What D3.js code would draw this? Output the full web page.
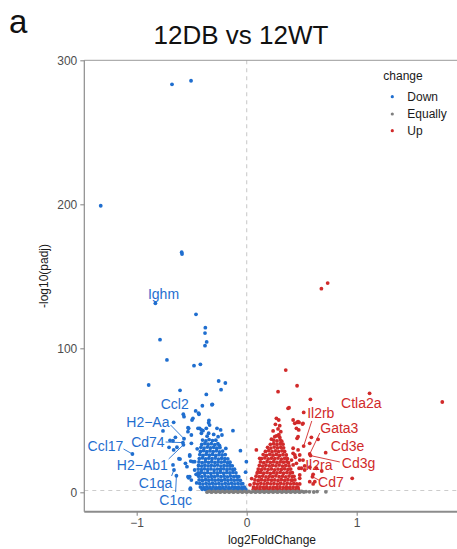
<!DOCTYPE html>
<html><head><meta charset="utf-8">
<script src="https://cdn.jsdelivr.net/npm/d3@7/dist/d3.min.js"></script>
<style>body{margin:0;background:#fff}svg{display:block}text{font-family:"Liberation Sans",Arial,sans-serif}</style>
</head><body><svg id="c" width="457" height="549"></svg>
<script>
const title = "12DB vs 12WT";
const panelTag = "a";
const xTicks = [-1, 0, 1];
const yTicks = [0, 100, 200, 300];
const legendLabels = ["Down", "Equally", "Up"];
const xTitle = "log2FoldChange";
const yTitle = "-log10(padj)";

// [log2FoldChange, -log10(padj)]
const downScattered = [
[-0.679,283.3],[-0.506,285.8],[-1.327,199],[-0.591,166.7],[-0.588,165.4],[-0.83,131.2],[-0.461,123.6],[-0.376,114.3],[-0.379,110.6],[-0.364,104.4],[-0.379,101.8],[-0.788,106],[-0.725,91.9],[-0.479,87.9],[-0.421,88.9],[-0.891,74.5],[-0.606,70.8],[-0.255,77.3],[-0.194,75.9],[-0.233,71.3],[-0.367,68],[-0.403,60.1],[-0.312,61.1],[-0.316,60.8],[-0.464,56.5],[-0.576,54.2],[-0.57,52.5],[-0.434,54.2],[-0.437,54.9],[-0.489,51.4],[-0.497,50.2],[-0.343,50],[-0.346,48.3],[-0.664,48.6],[-0.533,44.9],[-0.528,44.4],[-0.428,44.4],[-0.397,42.8],[-0.412,41],[-0.503,39.8],[-0.125,42.8],[-0.761,42.6],[-0.697,36.1],[-0.648,38.2],[-0.67,35.8],[-0.57,37.2],[-0.58,34.5],[-0.575,33],[-0.706,31.2],[-0.634,31.3],[-0.664,29.4],[-1.039,26.6],[-0.616,23.3],[-0.606,23.1],[-0.518,25.2],[-0.473,21.3],[-0.543,17.8],[-0.557,20.1],[-0.509,21.7],[-0.67,19],[-0.661,15.5],[-0.639,11.5],[-0.527,10.1],[-0.518,10.8],[-0.503,8.5],[-0.428,13.2],[-0.512,2.8],[-0.512,2.1],[-0.057,28.9],[-0.443,44.4],[-0.412,43.3],[-0.367,44.4],[-0.337,46.7],[-0.27,44.4],[-0.237,43.3],[-0.225,39.8],[-0.346,41],[-0.534,42.1],[-0.503,34],[-0.518,25.9],[-0.489,21.3],[-0.534,10.8],[-0.473,15.5],[-0.003,21.3],[-0.01,14],[-0.3,40.2],[-0.36,39],[-0.26,38.6],[-0.19,30.5],[-0.45,30.2],[-0.46,12.5],[-0.455,6.5]
];
const downDense = [
[-0.401,36.3],[-0.371,35.7],[-0.342,36.6],[-0.311,35.9],[-0.281,36.2],
[-0.409,33.2],[-0.38,33.9],[-0.351,33.4],[-0.322,33.8],[-0.29,33.1],[-0.262,33.7],[-0.248,32.6],
[-0.416,31.2],[-0.387,30.7],[-0.358,31.4],[-0.329,30.8],[-0.3,31.3],[-0.271,30.6],[-0.243,31.1],
[-0.421,28.4],[-0.392,28.9],[-0.363,28.2],[-0.334,28.7],[-0.305,28.3],[-0.276,28.8],[-0.247,28.1],[-0.219,28.6],
[-0.426,26.2],[-0.397,25.7],[-0.368,26.4],[-0.339,25.8],[-0.31,26.3],[-0.281,25.6],[-0.252,26.1],[-0.223,25.9],[-0.195,26.2],
[-0.431,23.4],[-0.402,23.9],[-0.373,23.2],[-0.344,23.7],[-0.315,23.3],[-0.286,23.8],[-0.257,23.1],[-0.228,23.6],[-0.199,23.4],[-0.172,23.2],
[-0.434,21.1],[-0.405,20.6],[-0.376,21.3],[-0.347,20.8],[-0.318,21.2],[-0.289,20.7],[-0.26,21.1],[-0.231,20.9],[-0.202,21.3],[-0.174,20.6],[-0.152,20.9],
[-0.438,18.6],[-0.409,18.2],[-0.38,18.8],[-0.351,18.3],[-0.322,18.7],[-0.293,18.4],[-0.264,18.9],[-0.235,18.2],[-0.206,18.6],[-0.178,18.3],[-0.151,18.7],[-0.131,18.4],
[-0.441,16.1],[-0.412,15.7],[-0.383,16.3],[-0.354,15.8],[-0.325,16.2],[-0.296,15.6],[-0.267,16.1],[-0.238,15.9],[-0.209,16.3],[-0.18,15.7],[-0.152,16.2],[-0.126,15.8],[-0.111,16.0],
[-0.442,13.4],[-0.413,13.8],[-0.384,13.3],[-0.355,13.7],[-0.326,13.2],[-0.297,13.6],[-0.268,13.4],[-0.239,13.9],[-0.21,13.3],[-0.181,13.7],[-0.153,13.4],[-0.125,13.8],[-0.098,13.5],
[-0.437,11.2],[-0.408,10.8],[-0.379,11.3],[-0.35,10.7],[-0.321,11.1],[-0.292,10.9],[-0.263,11.4],[-0.234,10.8],[-0.205,11.2],[-0.176,10.7],[-0.147,11.3],[-0.118,10.9],[-0.091,11.1],[-0.072,10.8],
[-0.432,8.6],[-0.403,8.2],[-0.374,8.7],[-0.345,8.3],[-0.316,8.8],[-0.287,8.4],[-0.258,8.6],[-0.229,8.2],[-0.2,8.7],[-0.171,8.3],[-0.142,8.8],[-0.113,8.4],[-0.085,8.6],[-0.058,8.3],
[-0.427,6.1],[-0.398,5.7],[-0.369,6.2],[-0.34,5.8],[-0.311,6.3],[-0.282,5.9],[-0.253,6.1],[-0.224,5.7],[-0.195,6.2],[-0.166,5.8],[-0.137,6.3],[-0.108,5.9],[-0.079,6.1],[-0.051,5.8],[-0.036,6.0],
[-0.421,3.6],[-0.392,3.3],[-0.363,3.8],[-0.334,3.4],[-0.305,3.7],[-0.276,3.2],[-0.247,3.6],[-0.218,3.4],[-0.189,3.8],[-0.16,3.3],[-0.131,3.7],[-0.102,3.4],[-0.073,3.6],[-0.045,3.3],[-0.022,3.5],
[-0.404,2.1],[-0.375,1.9],[-0.346,2.2],[-0.317,1.8],[-0.288,2.1],[-0.259,1.9],[-0.23,2.2],[-0.201,1.8],[-0.172,2.1],[-0.143,1.9],[-0.114,2.2],[-0.085,1.8],[-0.056,2.1],[-0.03,1.9],[-0.008,2.0]
];
const upScattered = [
[0.679,141.4],[0.736,145.3],[0.355,84.9],[0.458,74],[0.285,69.9],[0.579,64.6],[1.117,68.7],[1.778,62.7],[0.376,58.3],[0.385,58.8],[0.518,55.5],[0.422,50.2],[0.476,48.5],[0.512,47.9],[0.458,48.5],[0.507,47.4],[0.437,47.9],[0.467,49],[0.452,44.4],[0.473,43.3],[0.27,51.4],[0.291,50.2],[0.261,47.2],[0.3,46.3],[0.285,44],[0.31,42.1],[0.24,42.6],[0.27,39.2],[0.292,40.1],[0.255,38.6],[0.3,38.3],[0.225,36.9],[0.467,38.6],[0.458,37.5],[0.588,38.2],[0.649,36.8],[0.573,34],[0.518,32.1],[0.422,30.6],[0.088,29.4],[0.573,26.6],[0.58,25.5],[0.718,27.5],[0.422,27.1],[0.467,29.4],[0.437,25.9],[0.482,25.9],[0.443,24.3],[0.118,23.6],[0.407,22.4],[0.482,22.4],[0.512,22.4],[0.452,20.1],[0.422,19],[0.497,16.7],[0.476,16.7],[0.527,18.3],[0.573,17.4],[0.634,16.7],[0.527,15.5],[0.682,14.8],[0.103,14.3],[0.604,12.5],[0.482,12],[0.598,10.8],[0.482,9.7],[0.416,8.5],[0.959,9.7],[0.573,7.4],[0.619,7.4],[0.604,5.8],[0.482,5.8],[0.03,5.2],[0.045,9.5]
];
const upDense = [
[0.245,36.2],[0.275,35.7],[0.305,36.4],[0.318,35.5],
[0.215,33.3],[0.245,33.8],[0.275,33.2],[0.305,33.7],[0.33,33.4],
[0.19,31.2],[0.22,30.7],[0.25,31.4],[0.28,30.8],[0.31,31.3],[0.335,30.9],
[0.17,28.4],[0.2,28.9],[0.23,28.2],[0.26,28.7],[0.29,28.3],[0.32,28.8],[0.345,28.4],
[0.15,26.2],[0.18,25.7],[0.21,26.4],[0.24,25.8],[0.27,26.3],[0.3,25.6],[0.33,26.1],[0.36,25.9],
[0.135,23.4],[0.165,23.9],[0.195,23.2],[0.225,23.7],[0.255,23.3],[0.285,23.8],[0.315,23.1],[0.345,23.6],[0.37,23.4],
[0.125,21.1],[0.155,20.6],[0.185,21.3],[0.215,20.8],[0.245,21.2],[0.275,20.7],[0.305,21.1],[0.335,20.9],[0.365,21.3],[0.38,20.6],
[0.115,18.6],[0.145,18.2],[0.175,18.8],[0.205,18.3],[0.235,18.7],[0.265,18.4],[0.295,18.9],[0.325,18.2],[0.355,18.6],[0.385,18.3],
[0.105,16.1],[0.135,15.7],[0.165,16.3],[0.195,15.8],[0.225,16.2],[0.255,15.6],[0.285,16.1],[0.315,15.9],[0.345,16.3],[0.375,15.7],[0.4,16.1],
[0.095,13.4],[0.125,13.8],[0.155,13.3],[0.185,13.7],[0.215,13.2],[0.245,13.6],[0.275,13.4],[0.305,13.9],[0.335,13.3],[0.365,13.7],[0.395,13.4],[0.415,13.6],
[0.085,11.2],[0.115,10.8],[0.145,11.3],[0.175,10.7],[0.205,11.1],[0.235,10.9],[0.265,11.4],[0.295,10.8],[0.325,11.2],[0.355,10.7],[0.385,11.3],[0.415,10.9],[0.43,11.1],
[0.075,8.6],[0.105,8.2],[0.135,8.7],[0.165,8.3],[0.195,8.8],[0.225,8.4],[0.255,8.6],[0.285,8.2],[0.315,8.7],[0.345,8.3],[0.375,8.8],[0.405,8.4],[0.438,8.6],
[0.068,6.1],[0.098,5.7],[0.128,6.2],[0.158,5.8],[0.188,6.3],[0.218,5.9],[0.248,6.1],[0.278,5.7],[0.308,6.2],[0.338,5.8],[0.368,6.3],[0.398,5.9],[0.428,6.1],[0.455,5.8],
[0.062,3.6],[0.092,3.3],[0.122,3.8],[0.152,3.4],[0.182,3.7],[0.212,3.2],[0.242,3.6],[0.272,3.4],[0.302,3.8],[0.332,3.3],[0.362,3.7],[0.392,3.4],[0.422,3.6],[0.452,3.3],[0.465,3.5],
[0.06,2.1],[0.09,1.9],[0.12,2.2],[0.15,1.8],[0.18,2.1],[0.21,1.9],[0.24,2.2],[0.27,1.8],[0.3,2.1],[0.33,1.9],[0.36,2.2],[0.39,1.8],[0.42,2.1],[0.45,1.9],[0.47,2.0]
];
const equalPoints = [
[-0.36,0.1],[-0.34,0.7],[-0.32,0.1],[-0.30,0.7],[-0.28,0.1],[-0.26,0.7],[-0.24,0.1],[-0.22,0.7],[-0.20,0.1],[-0.18,0.7],[-0.16,0.1],[-0.14,0.7],[-0.12,0.1],[-0.10,0.7],[-0.08,0.1],[-0.06,0.7],[-0.04,0.1],[-0.02,0.7],[0.00,0.1],[0.02,0.7],[0.04,0.1],[0.06,0.7],[0.08,0.1],[0.10,0.7],[0.12,0.1],[0.14,0.7],[0.16,0.1],[0.18,0.7],[0.20,0.1],[0.22,0.7],[0.24,0.1],[0.26,0.7],[0.28,0.1],[0.30,0.7],[0.32,0.1],[0.34,0.7],[0.36,0.1],[0.38,0.7],[0.40,0.1],[0.42,0.7],[0.44,0.1],[0.46,0.7],[0.48,0.1],[0.50,0.6],[0.52,0.2],[0.54,0.5],[0.57,0.3],[0.61,0.2],[0.64,0.5],[0.72,0.3]
];
const labeledGenes = [
{gene:"Ighm", lfc:-0.83, p:131.2, dir:"Down"},
{gene:"Ccl2", lfc:-0.576, p:54.2, dir:"Down"},
{gene:"H2\u2212Aa", lfc:-0.57, p:37.2, dir:"Down"},
{gene:"Cd74", lfc:-0.58, p:34.5, dir:"Down"},
{gene:"Ccl17", lfc:-1.039, p:26.6, dir:"Down"},
{gene:"H2\u2212Ab1", lfc:-0.575, p:33, dir:"Down"},
{gene:"C1qa", lfc:-0.661, p:15.5, dir:"Down"},
{gene:"C1qc", lfc:-0.639, p:11.5, dir:"Down"},
{gene:"Ctla2a", lfc:1.117, p:68.7, dir:"Up"},
{gene:"Il2rb", lfc:0.518, p:32.1, dir:"Up"},
{gene:"Gata3", lfc:0.573, p:26.6, dir:"Up"},
{gene:"Cd3e", lfc:0.718, p:27.5, dir:"Up"},
{gene:"Cd3g", lfc:0.58, p:25.5, dir:"Up"},
{gene:"Il2ra", lfc:0.573, p:17.4, dir:"Up"},
{gene:"Cd7", lfc:0.598, p:10.8, dir:"Up"}
];

// layout (label offsets from point, segment end offsets from label centre)
const labelLayout = {
"Ighm":[8.1,-9.1,null], "Ccl2":[-8.6,-10,null], "H2\u2212Aa":[-36.1,-16.4,[22.7,2.7]],
"Cd74":[-35,-0.3,[17.7,-0.3]], "Ccl17":[-26.9,-8.3,[18,3.3]], "H2\u2212Ab1":[-41.1,20.2,[26.3,-6]],
"C1qa":[-18.4,12.7,[16,-6.7]], "C1qc":[-0.8,24.3,[0,-8]], "Ctla2a":[-8.3,10,null],
"Il2rb":[17.1,-32.8,[-9,7.7]], "Gata3":[29.6,-25.7,[-19.5,4.7]], "Cd3e":[21.9,-6.7,null],
"Cd3g":[48,7.7,[-18.7,-1.3]], "Il2ra":[9.1,-2.3,null], "Cd7":[18.4,5,[-12,-1.7]]
};
const colors = {Down:"#1F6ECF", Equally:"#7F7F7F", Up:"#D12A2A"};

const svg = d3.select("#c");
const x = d3.scaleLinear().domain([-1, 1]).range([136.7, 356.7]);
const y = d3.scaleLinear().domain([0, 300]).range([492.3, 60.3]);
const panel = {left:84.3, right:457, top:60.3, bottom:511.7};

// reference lines
svg.append("line").attr("x1", x(0)).attr("x2", x(0)).attr("y1", panel.top).attr("y2", panel.bottom)
  .attr("stroke","#cccccc").attr("stroke-width",1.1).attr("stroke-dasharray","4,4");
svg.append("line").attr("x1", panel.left).attr("x2", panel.right).attr("y1", y(-Math.log10(0.05))).attr("y2", y(-Math.log10(0.05)))
  .attr("stroke","#cccccc").attr("stroke-width",1.1).attr("stroke-dasharray","4,4");

// points
const r = 1.9;
const g = svg.append("g");
function drawPts(arr, col){
  g.selectAll(null).data(arr).enter().append("circle")
    .attr("cx", d=>x(d[0])).attr("cy", d=>y(d[1])).attr("r", r).attr("fill", col);
}
drawPts(downDense, colors.Down);
drawPts(downScattered, colors.Down);
drawPts(upDense, colors.Up);
drawPts(upScattered, colors.Up);
drawPts(equalPoints, colors.Equally);

// labels
const lg = svg.append("g");
labeledGenes.forEach(d=>{
  const px = x(d.lfc), py = y(d.p);
  const L = labelLayout[d.gene];
  const lx = px + L[0], ly = py + L[1];
  if (L[2]) {
    lg.append("line").attr("x1", px).attr("y1", py).attr("x2", lx + L[2][0]).attr("y2", ly + L[2][1])
      .attr("stroke", colors[d.dir]).attr("stroke-width", 0.9);
  }
  lg.append("text").attr("x", lx).attr("y", ly).attr("text-anchor","middle").attr("dominant-baseline","central")
    .attr("font-size", 14).attr("fill", colors[d.dir]).text(d.gene);
});

// axes
const axisCol = "#8c8c8c";
svg.append("line").attr("x1", panel.left).attr("x2", panel.right).attr("y1", panel.top).attr("y2", panel.top)
  .attr("stroke", "#9a9a9a").attr("stroke-width", 1);
svg.append("line").attr("x1", panel.left).attr("x2", panel.left).attr("y1", panel.top).attr("y2", panel.bottom)
  .attr("stroke", axisCol).attr("stroke-width", 1.2);
svg.append("line").attr("x1", panel.left).attr("x2", panel.right).attr("y1", panel.bottom).attr("y2", panel.bottom)
  .attr("stroke", axisCol).attr("stroke-width", 2);

const ya = svg.append("g").attr("transform", `translate(${panel.left},0)`)
  .call(d3.axisLeft(y).tickValues(yTicks).tickSize(4).tickPadding(3));
const xa = svg.append("g").attr("transform", `translate(0,${panel.bottom})`)
  .call(d3.axisBottom(x).tickValues(xTicks).tickSize(4).tickPadding(3).tickFormat(d => d < 0 ? "\u2212" + Math.abs(d) : d));
[ya, xa].forEach(a=>{
  a.select(".domain").remove();
  a.selectAll(".tick line").attr("stroke", axisCol).attr("stroke-width", 1.1);
  a.selectAll(".tick text").attr("fill", "#4d4d4d").attr("font-size", 12)
    .attr("font-family", '"Liberation Sans",Arial,sans-serif');
});

// axis titles
svg.append("text").attr("x", 272).attr("y", 543.5).attr("text-anchor","middle")
  .attr("font-size", 12).attr("fill","#1a1a1a").text(xTitle);
svg.append("text").attr("transform","translate(48,276) rotate(-90)").attr("text-anchor","middle")
  .attr("font-size", 12).attr("fill","#1a1a1a").text(yTitle);

// title & tag
svg.append("text").attr("x", 241).attr("y", 43.5).attr("text-anchor","middle")
  .attr("font-size", 26).attr("fill","#111").text(title);
svg.append("text").attr("x", 9).attr("y", 33).attr("font-size", 33).attr("fill","#111").text(panelTag);

// legend
const leg = svg.append("g");
leg.append("text").attr("x", 383.3).attr("y", 76).attr("dominant-baseline","central")
  .attr("font-size", 12).attr("fill","#1a1a1a").text("change");
const legY = [96.7, 114, 130.7];
legendLabels.forEach((k,i)=>{
  leg.append("circle").attr("cx", 392.3).attr("cy", legY[i]).attr("r", 1.6).attr("fill", colors[k]);
  leg.append("text").attr("x", 407.3).attr("y", legY[i]).attr("dominant-baseline","central")
    .attr("font-size", 12).attr("fill","#1a1a1a").text(k);
});
</script></body></html>
